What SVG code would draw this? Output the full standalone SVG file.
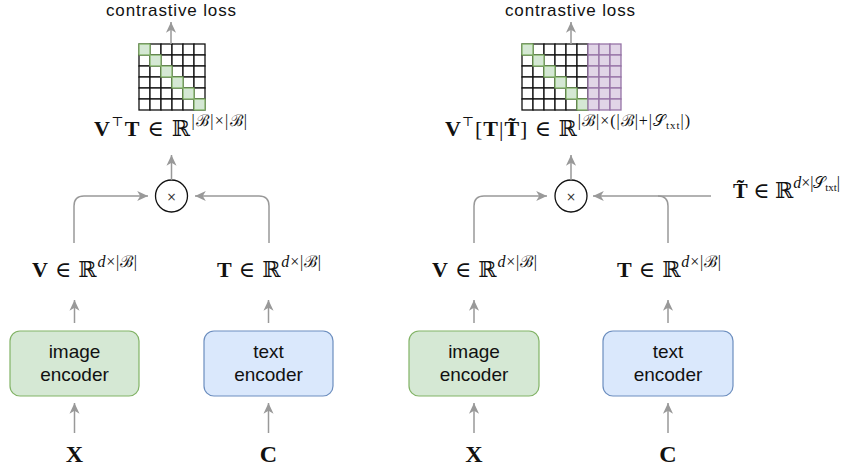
<svg xmlns="http://www.w3.org/2000/svg" width="844" height="472" viewBox="0 0 844 472">
<style>
.lbl{font-family:"Liberation Sans",Arial,sans-serif;font-size:19px;fill:#111;text-anchor:middle}
.top{font-size:17px}
.m{font-family:"Liberation Serif","DejaVu Serif",serif;font-size:22px;fill:#111}
.b{font-weight:bold}
.sup{font-size:16px}
.tp{font-size:13px}
.sub{font-size:11px}
.it{font-style:italic}
.big{font-size:24px}
.conn{fill:none;stroke:#999;stroke-width:1.5}
.cell{fill:#fff;stroke:#111;stroke-width:1.3}
.g{fill:#d5e8d4;stroke:#82b366;stroke-width:1.3}
.p{fill:#e1d5e7;stroke:#9673a6;stroke-width:1.3}
.enc-g{fill:#d5e8d4;stroke:#82b366;stroke-width:1.2}
.enc-b{fill:#dae8fc;stroke:#6c8ebf;stroke-width:1.2}
.mul{fill:#fff;stroke:#111;stroke-width:1.3}
.x{font-family:"DejaVu Sans",sans-serif;font-size:12px;fill:#333;text-anchor:middle}
</style>
<defs>
<marker id="ah" markerUnits="userSpaceOnUse" markerWidth="12" markerHeight="12" refX="9" refY="5" orient="auto" viewBox="0 0 10 10">
<path d="M0,0.8 L9,5 L0,9.2 L2.5,5 z" fill="#999"/>
</marker>
</defs>

<!-- LEFT PANEL -->
<g id="loss-left"><text class="lbl top" x="171" y="16" textLength="130" lengthAdjust="spacing">contrastive loss</text></g>
<g id="sim-left">
<rect class="cell" x="139" y="44" width="11" height="11"/><rect class="cell" x="150" y="44" width="11" height="11"/><rect class="cell" x="161" y="44" width="11" height="11"/><rect class="cell" x="172" y="44" width="11" height="11"/><rect class="cell" x="183" y="44" width="11" height="11"/><rect class="cell" x="194" y="44" width="11" height="11"/>
<rect class="cell" x="139" y="55" width="11" height="11"/><rect class="cell" x="150" y="55" width="11" height="11"/><rect class="cell" x="161" y="55" width="11" height="11"/><rect class="cell" x="172" y="55" width="11" height="11"/><rect class="cell" x="183" y="55" width="11" height="11"/><rect class="cell" x="194" y="55" width="11" height="11"/>
<rect class="cell" x="139" y="66" width="11" height="11"/><rect class="cell" x="150" y="66" width="11" height="11"/><rect class="cell" x="161" y="66" width="11" height="11"/><rect class="cell" x="172" y="66" width="11" height="11"/><rect class="cell" x="183" y="66" width="11" height="11"/><rect class="cell" x="194" y="66" width="11" height="11"/>
<rect class="cell" x="139" y="77" width="11" height="11"/><rect class="cell" x="150" y="77" width="11" height="11"/><rect class="cell" x="161" y="77" width="11" height="11"/><rect class="cell" x="172" y="77" width="11" height="11"/><rect class="cell" x="183" y="77" width="11" height="11"/><rect class="cell" x="194" y="77" width="11" height="11"/>
<rect class="cell" x="139" y="88" width="11" height="11"/><rect class="cell" x="150" y="88" width="11" height="11"/><rect class="cell" x="161" y="88" width="11" height="11"/><rect class="cell" x="172" y="88" width="11" height="11"/><rect class="cell" x="183" y="88" width="11" height="11"/><rect class="cell" x="194" y="88" width="11" height="11"/>
<rect class="cell" x="139" y="99" width="11" height="11"/><rect class="cell" x="150" y="99" width="11" height="11"/><rect class="cell" x="161" y="99" width="11" height="11"/><rect class="cell" x="172" y="99" width="11" height="11"/><rect class="cell" x="183" y="99" width="11" height="11"/><rect class="cell" x="194" y="99" width="11" height="11"/>
<rect class="g" x="139" y="44" width="11" height="11"/><rect class="g" x="150" y="55" width="11" height="11"/><rect class="g" x="161" y="66" width="11" height="11"/><rect class="g" x="172" y="77" width="11" height="11"/><rect class="g" x="183" y="88" width="11" height="11"/><rect class="g" x="194" y="99" width="11" height="11"/>
</g>
<g id="simlabel-left"><text class="m" x="94" y="136" textLength="153" lengthAdjust="spacing"><tspan class="b">V</tspan><tspan class="tp" dy="-10">⊤</tspan><tspan class="b" dy="10">T</tspan><tspan> ∈ ℝ</tspan><tspan class="sup" dy="-10">|ℬ|×|ℬ|</tspan></text></g>
<g id="mul-left"><circle class="mul" cx="171.5" cy="196" r="16"/><text class="x" x="171.5" y="200.5">×</text></g>
<g id="vlabel-left"><text class="m" x="32" y="277" textLength="105" lengthAdjust="spacing"><tspan class="b">V</tspan><tspan> ∈ ℝ</tspan><tspan class="sup it" dy="-10">d</tspan><tspan class="sup">×|ℬ|</tspan></text></g>
<g id="tlabel-left"><text class="m" x="217" y="277" textLength="104" lengthAdjust="spacing"><tspan class="b">T</tspan><tspan> ∈ ℝ</tspan><tspan class="sup it" dy="-10">d</tspan><tspan class="sup">×|ℬ|</tspan></text></g>
<g id="imgenc-left"><rect class="enc-g" x="10" y="331" width="129" height="65" rx="10"/><text class="lbl" x="74.5" y="358">image</text><text class="lbl" x="74.5" y="381">encoder</text></g>
<g id="txtenc-left"><rect class="enc-b" x="204" y="331" width="129" height="65" rx="10"/><text class="lbl" x="268.5" y="358">text</text><text class="lbl" x="268.5" y="381">encoder</text></g>
<g id="x-left"><text class="m b big" x="74.5" y="462" text-anchor="middle">X</text></g>
<g id="c-left"><text class="m b big" x="268.5" y="462" text-anchor="middle">C</text></g>

<!-- RIGHT PANEL -->
<g id="loss-right"><text class="lbl top" x="570" y="16" textLength="130" lengthAdjust="spacing">contrastive loss</text></g>
<g id="sim-right">
<rect class="cell" x="522" y="44" width="11" height="11"/><rect class="cell" x="533" y="44" width="11" height="11"/><rect class="cell" x="544" y="44" width="11" height="11"/><rect class="cell" x="555" y="44" width="11" height="11"/><rect class="cell" x="566" y="44" width="11" height="11"/><rect class="cell" x="577" y="44" width="11" height="11"/>
<rect class="cell" x="522" y="55" width="11" height="11"/><rect class="cell" x="533" y="55" width="11" height="11"/><rect class="cell" x="544" y="55" width="11" height="11"/><rect class="cell" x="555" y="55" width="11" height="11"/><rect class="cell" x="566" y="55" width="11" height="11"/><rect class="cell" x="577" y="55" width="11" height="11"/>
<rect class="cell" x="522" y="66" width="11" height="11"/><rect class="cell" x="533" y="66" width="11" height="11"/><rect class="cell" x="544" y="66" width="11" height="11"/><rect class="cell" x="555" y="66" width="11" height="11"/><rect class="cell" x="566" y="66" width="11" height="11"/><rect class="cell" x="577" y="66" width="11" height="11"/>
<rect class="cell" x="522" y="77" width="11" height="11"/><rect class="cell" x="533" y="77" width="11" height="11"/><rect class="cell" x="544" y="77" width="11" height="11"/><rect class="cell" x="555" y="77" width="11" height="11"/><rect class="cell" x="566" y="77" width="11" height="11"/><rect class="cell" x="577" y="77" width="11" height="11"/>
<rect class="cell" x="522" y="88" width="11" height="11"/><rect class="cell" x="533" y="88" width="11" height="11"/><rect class="cell" x="544" y="88" width="11" height="11"/><rect class="cell" x="555" y="88" width="11" height="11"/><rect class="cell" x="566" y="88" width="11" height="11"/><rect class="cell" x="577" y="88" width="11" height="11"/>
<rect class="cell" x="522" y="99" width="11" height="11"/><rect class="cell" x="533" y="99" width="11" height="11"/><rect class="cell" x="544" y="99" width="11" height="11"/><rect class="cell" x="555" y="99" width="11" height="11"/><rect class="cell" x="566" y="99" width="11" height="11"/><rect class="cell" x="577" y="99" width="11" height="11"/>
<rect class="g" x="522" y="44" width="11" height="11"/><rect class="g" x="533" y="55" width="11" height="11"/><rect class="g" x="544" y="66" width="11" height="11"/><rect class="g" x="555" y="77" width="11" height="11"/><rect class="g" x="566" y="88" width="11" height="11"/><rect class="g" x="577" y="99" width="11" height="11"/>
<rect class="p" x="588" y="44" width="11" height="11"/><rect class="p" x="599" y="44" width="11" height="11"/><rect class="p" x="610" y="44" width="11" height="11"/>
<rect class="p" x="588" y="55" width="11" height="11"/><rect class="p" x="599" y="55" width="11" height="11"/><rect class="p" x="610" y="55" width="11" height="11"/>
<rect class="p" x="588" y="66" width="11" height="11"/><rect class="p" x="599" y="66" width="11" height="11"/><rect class="p" x="610" y="66" width="11" height="11"/>
<rect class="p" x="588" y="77" width="11" height="11"/><rect class="p" x="599" y="77" width="11" height="11"/><rect class="p" x="610" y="77" width="11" height="11"/>
<rect class="p" x="588" y="88" width="11" height="11"/><rect class="p" x="599" y="88" width="11" height="11"/><rect class="p" x="610" y="88" width="11" height="11"/>
<rect class="p" x="588" y="99" width="11" height="11"/><rect class="p" x="599" y="99" width="11" height="11"/><rect class="p" x="610" y="99" width="11" height="11"/>
</g>
<g id="simlabel-right"><text class="m" x="445" y="136" textLength="245" lengthAdjust="spacing"><tspan class="b">V</tspan><tspan class="tp" dy="-10">⊤</tspan><tspan dy="10">[</tspan><tspan class="b">T</tspan><tspan>|</tspan><tspan class="b">T̃</tspan><tspan>] ∈ ℝ</tspan><tspan class="sup" dy="-10">|ℬ|×(|ℬ|+|𝒮</tspan><tspan class="sub" dy="3">txt</tspan><tspan class="sup" dy="-3">|)</tspan></text></g>
<g id="mul-right"><circle class="mul" cx="571" cy="196" r="16"/><text class="x" x="571" y="200.5">×</text></g>
<g id="ttilde-right"><text class="m" x="733" y="198" textLength="107" lengthAdjust="spacing"><tspan class="b">T̃</tspan><tspan> ∈ ℝ</tspan><tspan class="sup it" dy="-10">d</tspan><tspan class="sup">×|𝒮</tspan><tspan class="sub" dy="3">txt</tspan><tspan class="sup" dy="-3">|</tspan></text></g>
<g id="vlabel-right"><text class="m" x="432" y="277" textLength="105" lengthAdjust="spacing"><tspan class="b">V</tspan><tspan> ∈ ℝ</tspan><tspan class="sup it" dy="-10">d</tspan><tspan class="sup">×|ℬ|</tspan></text></g>
<g id="tlabel-right"><text class="m" x="617" y="277" textLength="104" lengthAdjust="spacing"><tspan class="b">T</tspan><tspan> ∈ ℝ</tspan><tspan class="sup it" dy="-10">d</tspan><tspan class="sup">×|ℬ|</tspan></text></g>
<g id="imgenc-right"><rect class="enc-g" x="409" y="331" width="130" height="65" rx="10"/><text class="lbl" x="474" y="358">image</text><text class="lbl" x="474" y="381">encoder</text></g>
<g id="txtenc-right"><rect class="enc-b" x="603" y="331" width="130" height="65" rx="10"/><text class="lbl" x="668" y="358">text</text><text class="lbl" x="668" y="381">encoder</text></g>
<g id="x-right"><text class="m b big" x="474" y="462" text-anchor="middle">X</text></g>
<g id="c-right"><text class="m b big" x="668" y="462" text-anchor="middle">C</text></g>

<g id="connectors">
<path class="conn" d="M171,44 V22" marker-end="url(#ah)"/>
<path class="conn" d="M171.5,180 V155" marker-end="url(#ah)"/>
<path class="conn" d="M74,243 V206 Q74,196 84,196 H148" marker-end="url(#ah)"/>
<path class="conn" d="M269,243 V206 Q269,196 259,196 H195" marker-end="url(#ah)"/>
<path class="conn" d="M74.5,323 V300" marker-end="url(#ah)"/>
<path class="conn" d="M268.5,323 V300" marker-end="url(#ah)"/>
<path class="conn" d="M74.5,433 V403" marker-end="url(#ah)"/>
<path class="conn" d="M268.5,433 V403" marker-end="url(#ah)"/>

<path class="conn" d="M571,44 V22" marker-end="url(#ah)"/>
<path class="conn" d="M571,180 V155" marker-end="url(#ah)"/>
<path class="conn" d="M474,243 V206 Q474,196 484,196 H547" marker-end="url(#ah)"/>
<path class="conn" d="M668,243 V206 Q668,196 658,196"/>
<path class="conn" d="M711,196 H593" marker-end="url(#ah)"/>
<path class="conn" d="M474,323 V300" marker-end="url(#ah)"/>
<path class="conn" d="M668,323 V300" marker-end="url(#ah)"/>
<path class="conn" d="M474,433 V403" marker-end="url(#ah)"/>
<path class="conn" d="M668,433 V403" marker-end="url(#ah)"/>
</g>
</svg>
